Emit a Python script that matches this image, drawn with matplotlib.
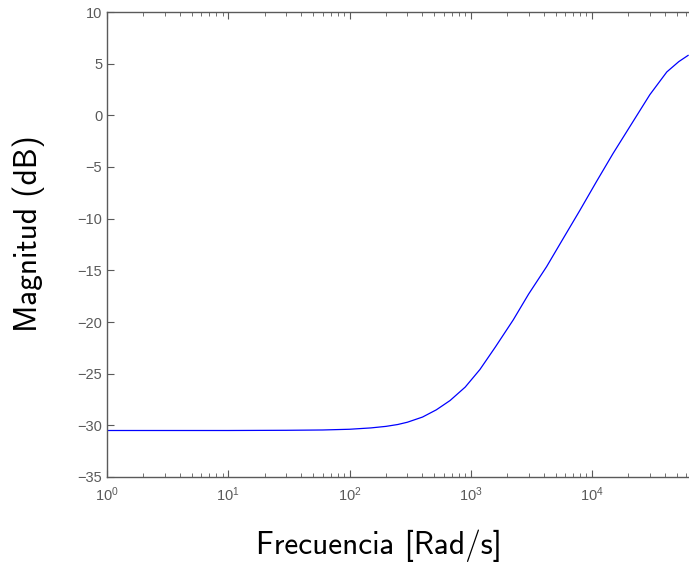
import numpy as np
import matplotlib.pyplot as plt

# puntos (frecuencia en rad/s, magnitud en dB)
frecuencia = [1, 3, 10, 30, 60, 100, 150, 200, 250, 300, 400, 520, 675, 900,
              1190, 1600, 2240, 3000, 4220, 5800, 7940, 10900, 14900, 20500,
              30000, 41400, 52000, 62000]
magnitud = [-30.5, -30.5, -30.5, -30.48, -30.45, -30.38, -30.25, -30.1, -29.92,
            -29.7, -29.2, -28.5, -27.6, -26.3, -24.6, -22.4, -19.8, -17.3,
            -14.65, -11.9, -9.2, -6.4, -3.7, -1.1, 2.0, 4.2, 5.2, 5.8]

ytick_vals = [-35, -30, -25, -20, -15, -10, -5, 0, 5, 10]

gris = '#5a5a5a'

fig = plt.figure(figsize=(6.89, 5.66), dpi=100)
ax = fig.add_axes([107/689, 1 - 477/566, 1 - 107/689, (477 - 12)/566])

ax.semilogx(frecuencia, magnitud, color=(0, 0, 1), linewidth=0.9)

ax.set_xlim(1, 10**4.8)
ax.set_ylim(-35, 10)
ax.set_yticks(ytick_vals)

ax.spines['right'].set_visible(False)
for s in ['left', 'top', 'bottom']:
    ax.spines[s].set_color(gris)
    ax.spines[s].set_linewidth(1.0)

ax.tick_params(which='both', direction='in', top=True, right=False, colors=gris,
               labelsize=10.5)
ax.tick_params(which='major', length=5)
ax.tick_params(which='minor', length=3)
ax.tick_params(axis='x', which='major', pad=6)
for lab in ax.get_xticklabels() + ax.get_yticklabels():
    lab.set_family('Liberation Sans')

ax.set_xlabel('Frecuencia [Rad/s]', fontsize=22.5, family='cmss10')
ax.set_ylabel('Magnitud (dB)', fontsize=22.5, family='cmss10')
ax.xaxis.set_label_coords(0.467, -0.112)
ax.yaxis.set_label_coords(-0.106, 0.523)

fig.savefig('out.png', dpi=100)
